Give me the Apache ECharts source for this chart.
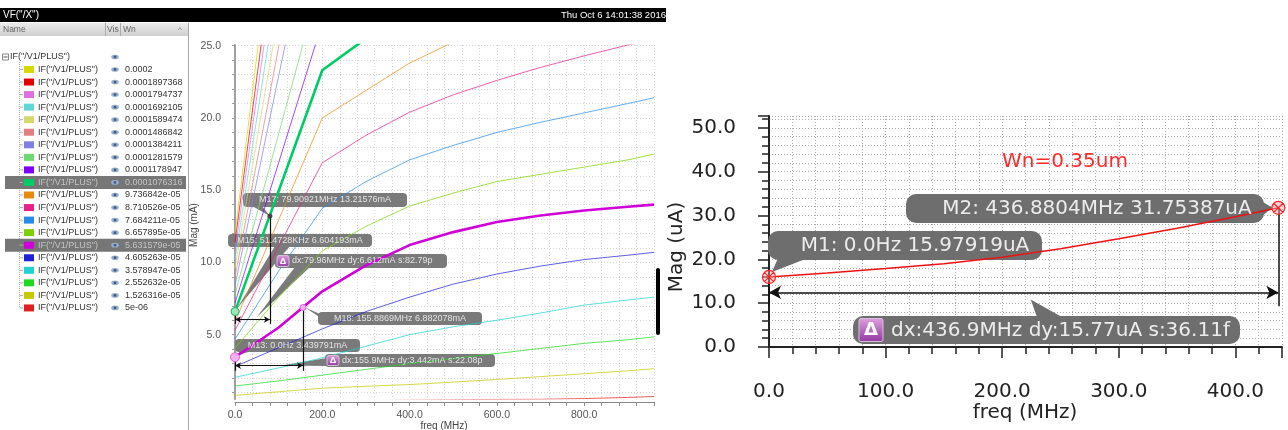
<!DOCTYPE html>
<html>
<head>
<meta charset="utf-8">
<script src="https://cdn.jsdelivr.net/npm/echarts@6/dist/echarts.min.js"></script>
<style>
html, body { margin: 0; padding: 0; background: #fff; }
#chart { width: 1288px; height: 430px; }
</style>
</head>
<body>
<div id="chart"></div>
<script>
// ---- left panel: IF("/V1/PLUS") magnitude, one trace per Wn ----
const wnLabels = ['0.0002', '0.0001897368', '0.0001794737', '0.0001692105', '0.0001589474',
    '0.0001486842', '0.0001384211', '0.0001281579', '0.0001178947', '0.0001076316',
    '9.736842e-05', '8.710526e-05', '7.684211e-05', '6.657895e-05', '5.631579e-05',
    '4.605263e-05', '3.578947e-05', '2.552632e-05', '1.526316e-05', '5e-06']
const traceColors = ['#d8d800', '#e00000', '#e070e0', '#60d8d8', '#d8d870', '#e08080', '#8080e0',
    '#70d870', '#8000ff', '#00cc66', '#e88a10', '#e8208a', '#2a8ae8', '#80d000', '#d000d8',
    '#2020d8', '#20d0d0', '#20d820', '#c8c800', '#e02020']
const highlighted = [9, 14]
const freqL = [0, 100, 200, 300, 400, 500, 600, 700, 800, 900, 960]   // MHz
const magL = [                                                        // mA
    [12.0, 36.6, 61.3, 70.5, 78.0, 84.0, 89.0, 93.0, 96.5, 99.5, 101.0],
    [11.4, 34.2, 57.0, 65.5, 72.5, 78.0, 82.5, 86.5, 89.5, 92.5, 94.0],
    [10.8, 32.2, 53.6, 61.5, 68.0, 73.0, 77.5, 81.0, 84.0, 86.5, 88.0],
    [10.2, 29.8, 49.4, 57.0, 63.0, 68.0, 72.0, 75.5, 78.5, 81.0, 82.5],
    [9.6, 27.3, 45.0, 52.5, 58.5, 63.0, 67.0, 70.0, 73.0, 75.5, 76.5],
    [9.0, 24.9, 40.7, 48.0, 53.5, 58.0, 61.5, 64.5, 67.0, 69.0, 70.5],
    [8.4, 22.9, 37.3, 44.0, 49.0, 53.0, 56.5, 59.0, 61.5, 63.5, 64.5],
    [7.8, 18.9, 30.0, 36.0, 40.5, 44.0, 47.0, 49.5, 51.5, 53.5, 54.5],
    [7.2, 16.9, 26.6, 32.0, 36.0, 39.5, 42.0, 44.5, 46.5, 48.0, 49.0],
    [6.6, 14.95, 23.3, 25.5, 27.6, 29.4, 31.0, 32.4, 33.6, 34.6, 35.2],
    [5.9, 12.95, 20.0, 21.9, 23.8, 25.25, 26.7, 27.9, 29.0, 30.0, 30.6],
    [5.3, 11.1, 16.9, 18.8, 20.4, 21.6, 22.6, 23.5, 24.3, 25.05, 25.4],
    [4.7, 9.4, 13.75, 15.6, 17.1, 18.1, 19.0, 19.7, 20.35, 21.0, 21.4],
    [4.07, 7.6, 10.8, 12.5, 13.9, 14.8, 15.6, 16.1, 16.6, 17.1, 17.5],
    [3.44, 5.5, 8.0, 9.8, 11.2, 12.1, 12.8, 13.25, 13.6, 13.85, 14.0],
    [2.8, 4.1, 5.4, 6.6, 7.6, 8.5, 9.2, 9.75, 10.2, 10.5, 10.7],
    [2.05, 2.7, 3.4, 4.2, 5.0, 5.55, 6.0, 6.5, 7.05, 7.4, 7.6],
    [1.45, 1.8, 2.2, 2.6, 3.0, 3.35, 3.7, 4.05, 4.4, 4.65, 4.85],
    [0.8, 1.05, 1.3, 1.43, 1.55, 1.72, 1.9, 2.1, 2.3, 2.5, 2.65],
    [0.3, 0.35, 0.4, 0.43, 0.47, 0.5, 0.52, 0.53, 0.58, 0.66, 0.72]
]
const yTicksL = [5, 10, 15, 20, 25]
const yMinorL = [1, 2, 3, 4, 5, 6, 7, 8, 9, 10, 11, 12, 13, 14, 15, 16, 17, 18, 19, 20, 21, 22, 23, 24, 25]
// markers on the left plot
const m13 = [0, 3.44], m18 = [155.8869, 6.882]
const m15 = [0.05, 6.604], m17 = [79.909, 13.216]

// ---- right panel: single trace Wn=0.35um ----
const freqR = [0, 50, 100, 150, 200, 250, 300, 350, 400, 436.88]      // MHz
const magR = [15.98, 16.9, 17.9, 19.0, 20.5, 22.4, 24.7, 27.1, 29.7, 31.75]  // uA
const m1 = [0, 15.979], m2 = [436.8804, 31.754]

const FL = '"Liberation Sans", Arial, sans-serif'
const FR = '"DejaVu Sans", sans-serif'
const crossMark = 'path://M0,10A10,10,0,1,1,20,10A10,10,0,1,1,0,10Z M2.93,2.93L17.07,17.07M17.07,2.93L2.93,17.07'

const chart = echarts.init(document.getElementById('chart'))

const leftSeries = magL.map((vals, i) => {
    const hi = highlighted.includes(i)
    return {
        type: 'line', xAxisIndex: 0, yAxisIndex: 0, symbol: 'none', silent: true,
        data: freqL.map((f, k) => [f, vals[k]]),
        lineStyle: { color: traceColors[i], width: hi ? 2.6 : 1, opacity: hi ? 1 : 0.72 },
        z: hi ? 3 : 2
    }
})

const arrowL = { color: '#111', width: 1.2, type: 'solid' }
// M15 / M17 on the thick green trace
leftSeries[9].markPoint = {
    silent: true, label: { show: false },
    data: [
        { coord: m15, symbol: 'circle', symbolSize: 8, itemStyle: { color: '#9de8b8', borderColor: '#20b060', borderWidth: 1 } },
        { coord: m17, symbol: 'circle', symbolSize: 5, itemStyle: { color: '#444' } }
    ]
}
leftSeries[9].markLine = {
    silent: true, label: { show: false }, lineStyle: arrowL, symbolSize: [5, 6],
    data: [
        [{ coord: [0, 6.05], symbol: 'arrow' }, { coord: [m17[0], 6.05], symbol: 'arrow' }],
        [{ coord: [0, m15[1]], symbol: 'none' }, { coord: [0, 5.75], symbol: 'none' }],
        [{ coord: m17, symbol: 'none' }, { coord: [m17[0], 5.75], symbol: 'none' }]
    ]
}
// M13 / M18 on the thick magenta trace
leftSeries[14].markPoint = {
    silent: true, label: { show: false },
    data: [
        { coord: m13, symbol: 'circle', symbolSize: 9, itemStyle: { color: '#f6b0f0', borderColor: '#e060e0', borderWidth: 1 } },
        { coord: m18, symbol: 'circle', symbolSize: 6, itemStyle: { color: '#f6b0f0', borderColor: '#e060e0', borderWidth: 1 } }
    ]
}
leftSeries[14].markLine = {
    silent: true, label: { show: false }, lineStyle: arrowL, symbolSize: [5, 6],
    data: [
        [{ coord: [0, 2.86], symbol: 'arrow' }, { coord: [m18[0], 2.86], symbol: 'arrow' }],
        [{ coord: m13, symbol: 'none' }, { coord: [0, 2.5], symbol: 'none' }],
        [{ coord: m18, symbol: 'none' }, { coord: [m18[0], 2.5], symbol: 'none' }]
    ]
}

const rightSeries = {
    type: 'line', xAxisIndex: 1, yAxisIndex: 1, symbol: 'none', silent: true,
    data: freqR.map((f, k) => [f, magR[k]]),
    lineStyle: { color: '#ee1111', width: 1.5 },
    z: 3,
    markPoint: {
        silent: true, label: { show: false }, symbol: crossMark, symbolSize: 13,
        itemStyle: { color: 'rgba(255,170,170,0.45)', borderColor: '#ff2020', borderWidth: 1.2 },
        data: [{ coord: m1 }, { coord: m2 }]
    },
    markLine: {
        silent: true, label: { show: false }, symbolSize: [10, 12],
        lineStyle: { color: '#111', width: 1.5, type: 'solid' },
        data: [
            [{ coord: [0, 12.45], symbol: 'arrow' }, { coord: [m2[0], 12.45], symbol: 'arrow' }],
            [{ coord: m1, symbol: 'none' }, { coord: [0, 9.3], symbol: 'none' }],
            [{ coord: m2, symbol: 'none' }, { coord: [m2[0], 9.3], symbol: 'none' }]
        ]
    }
}

chart.setOption({
    animation: false,
    grid: [
        { left: 235, top: 45, width: 419, height: 354 },
        { left: 769, top: 116, width: 513, height: 231 }
    ],
    xAxis: [
        {
            gridIndex: 0, type: 'value', min: 0, max: 960, interval: 40, position: 'bottom', offset: 3,
            axisLine: { lineStyle: { color: '#888', width: 1 } },
            axisTick: { length: 4, lineStyle: { color: '#888' } },
            axisLabel: { margin: 8, color: '#555', fontSize: 10.5, fontFamily: FL,
                formatter: v => v % 200 === 0 ? v.toFixed(1) : '' },
            splitLine: { show: true, lineStyle: { color: '#d4d4d4', type: [1, 2] } }
        },
        {
            gridIndex: 1, type: 'value', min: 0, max: 440, interval: 20, position: 'bottom', offset: 11,
            axisLine: { lineStyle: { color: '#222', width: 2 } },
            axisTick: { length: 7, lineStyle: { color: '#222', width: 1.5 } },
            axisLabel: { margin: 24, color: '#222', fontSize: 20, fontFamily: FR,
                formatter: v => v % 100 === 0 ? v.toFixed(1) : '' },
            splitLine: { show: true, lineStyle: { color: '#aaa', type: [1, 2] } }
        },
        {
            gridIndex: 1, type: 'value', min: 0, max: 440, interval: 100, position: 'bottom', offset: 11,
            axisLine: { show: false }, axisLabel: { show: false }, splitLine: { show: false },
            axisTick: { length: 11, lineStyle: { color: '#222', width: 1.5 } }
        }
    ],
    yAxis: [
        {
            gridIndex: 0, type: 'value', min: 0.55, max: 25.05, position: 'left', offset: 6,
            axisLine: { show: true, lineStyle: { color: '#a0a0a0', width: 2 } },
            axisTick: { show: true, length: 3, customValues: yMinorL, lineStyle: { color: '#999' } },
            axisLabel: { margin: 8, color: '#555', fontSize: 10.5, fontFamily: FL,
                customValues: yTicksL, formatter: v => v.toFixed(1) },
            splitLine: { show: true, lineStyle: { color: '#d4d4d4', type: [1, 2] } }
        },
        {
            gridIndex: 1, type: 'value', min: 0, max: 52.7, interval: 2, position: 'left', offset: 14,
            axisLine: { show: true, lineStyle: { color: '#222', width: 2 } },
            axisTick: { show: true, length: 7, lineStyle: { color: '#222', width: 1.5 } },
            axisLabel: { margin: 19, color: '#222', fontSize: 20, fontFamily: FR,
                formatter: v => v % 10 === 0 ? v.toFixed(1) : '' },
            splitLine: { show: true, lineStyle: { color: '#aaa', type: [1, 2] } }
        },
        {
            gridIndex: 1, type: 'value', min: 0, max: 52.7, interval: 10, position: 'left', offset: 14,
            axisLine: { show: false }, axisLabel: { show: false }, splitLine: { show: false },
            axisTick: { show: true, length: 11, lineStyle: { color: '#222', width: 1.5 } }
        }
    ],
    series: [...leftSeries, rightSeries]
})

// ---- overlay: window chrome, signal list, marker labels ----
const pL = v => chart.convertToPixel({ xAxisIndex: 0, yAxisIndex: 0 }, v)
const pR = v => chart.convertToPixel({ xAxisIndex: 1, yAxisIndex: 1 }, v)

function txt(x, y, s, font, fill, align, extra) {
    return Object.assign({
        type: 'text', x: x, y: y, z: 10,
        style: { text: s, font: font, fill: fill, align: align || 'left', textAlign: align || 'left',
            verticalAlign: 'middle', textVerticalAlign: 'middle' }
    }, extra || {})
}
function wedge(points, fill, z) {
    return { type: 'polygon', z: z, shape: { points: points }, style: { fill: fill } }
}
function deltaIcon(x, y, w, h, font) {
    return [
        { type: 'rect', z: 6, shape: { x: x, y: y, width: w, height: h, r: 2 },
            style: { fill: new echarts.graphic.LinearGradient(0, 0, 0, 1, [
                { offset: 0, color: '#e0a0e0' }, { offset: 1, color: '#9038a0' }]), stroke: '#d8c0d8', lineWidth: 1 } },
        txt(x + w / 2, y + h / 2 + 0.5, 'Δ', font, '#fff', 'center')
    ]
}

const G = []
// title bar
G.push({ type: 'rect', z: 5, shape: { x: 0, y: 8, width: 666, height: 14 }, style: { fill: '#000' } })
G.push(txt(3, 15, 'VF("/X")', '10px ' + FL, '#fff'))
G.push(txt(666, 15, 'Thu Oct 6 14:01:38 2016', '9.5px ' + FL, '#fff', 'right'))
// list header
G.push({ type: 'rect', z: 5, shape: { x: 0, y: 23, width: 188, height: 13 },
    style: { fill: new echarts.graphic.LinearGradient(0, 0, 0, 1, [
        { offset: 0, color: '#ececec' }, { offset: 1, color: '#cfcfcf' }]) } })
G.push(txt(3, 29.5, 'Name', '8.5px ' + FL, '#666'))
G.push(txt(107, 29.5, 'Vis', '8.5px ' + FL, '#666'))
G.push(txt(123, 29.5, 'Wn', '8.5px ' + FL, '#666'))
G.push(txt(180, 30, '^', '8px ' + FL, '#777', 'center'))
G.push({ type: 'line', z: 6, shape: { x1: 105.5, y1: 23, x2: 105.5, y2: 36 }, style: { stroke: '#aaa' } })
G.push({ type: 'line', z: 6, shape: { x1: 120.5, y1: 23, x2: 120.5, y2: 36 }, style: { stroke: '#aaa' } })
G.push({ type: 'line', z: 6, shape: { x1: 188.5, y1: 23, x2: 188.5, y2: 430 }, style: { stroke: '#a8a8a8' } })

function eye(cx, cy) {
    return [
        { type: 'circle', z: 7, x: cx, y: cy, scaleY: 0.62, shape: { cx: 0, cy: 0, r: 3.8 }, style: { fill: '#98b0d0' } },
        { type: 'circle', z: 8, x: cx, y: cy, shape: { cx: 0, cy: 0, r: 1.4 }, style: { fill: '#3c5c8c' } }
    ]
}
// root row
const rootY = 57
G.push({ type: 'rect', z: 6, shape: { x: 2.5, y: rootY - 3, width: 6, height: 6 }, style: { fill: '#fff', stroke: '#888' } })
G.push({ type: 'line', z: 7, shape: { x1: 3.5, y1: rootY, x2: 7.5, y2: rootY }, style: { stroke: '#555' } })
G.push(txt(10, rootY, 'IF("/V1/PLUS")', '9px ' + FL, '#333'))
G.push(...eye(115, rootY))
// tree guide
const rowY = i => 69.5 + 12.55 * i
G.push({ type: 'line', z: 5, shape: { x1: 19.5, y1: rootY + 5, x2: 19.5, y2: rowY(wnLabels.length - 1) },
    style: { stroke: '#b0b0b0', lineDash: [1, 1] } })
wnLabels.forEach((wn, i) => {
    const y = rowY(i)
    const hi = highlighted.includes(i)
    if (hi) G.push({ type: 'rect', z: 5, shape: { x: 5, y: y - 6.5, width: 181, height: 13 }, style: { fill: '#767676' } })
    G.push({ type: 'line', z: 6, shape: { x1: 19.5, y1: y, x2: 23, y2: y }, style: { stroke: '#b0b0b0' } })
    G.push({ type: 'rect', z: 6, shape: { x: 24, y: y - 3.5, width: 10, height: 7 }, style: { fill: traceColors[i] } })
    G.push(txt(38, y, 'IF("/V1/PLUS")', '9px ' + FL, hi ? '#c4c4c4' : '#333'))
    G.push(...eye(115, y))
    G.push(txt(125, y, wn, '9px ' + FL, hi ? '#c4c4c4' : '#333'))
})

// left plot axis names and side bar
G.push(txt(194, 225, 'Mag (mA)', '10px ' + FL, '#444', 'center', { rotation: Math.PI / 2 }))
G.push(txt(444, 426, 'freq (MHz)', '10px ' + FL, '#444', 'center'))
G.push({ type: 'rect', z: 5, shape: { x: 656, y: 268, width: 4, height: 67, r: 2 }, style: { fill: '#000' } })

// left marker labels
const boxL = '#7a7a7a', textL = '#e4e4e4', fontL = '9px ' + FL
function labelL(x, y, w, h, s, withDelta) {
    const out = [{ type: 'rect', z: 1, shape: { x: x, y: y, width: w, height: h, r: 4 }, style: { fill: boxL } }]
    if (withDelta) {
        out.push(...deltaIcon(x + 2, y + 1.5, 12, h - 3, 'bold 9px ' + FL))
        out.push(txt(x + 17, y + h / 2, s, fontL, textL))
    } else {
        out.push(txt(x + w / 2, y + h / 2, s, fontL, textL, 'center'))
    }
    return out
}
const p13 = pL(m13), p18 = pL(m18), p15 = pL(m15), p17 = pL(m17)
const pD1 = pL([m17[0] / 2, 6.05]), pD2 = pL([m18[0] / 2, 2.86])
G.push(wedge([[252, 206], [262, 206], p17], boxL, 1))
G.push(wedge([[275, 246], [290, 246], [p15[0] + 2, p15[1] - 3]], boxL, 1))
G.push(wedge([[295, 267], [310, 267], [pD1[0] + 4, pD1[1] - 2]], boxL, 1))
G.push(wedge([[320, 314], [330, 324], [p18[0] + 2, p18[1]]], boxL, 1))
G.push(wedge([[240, 351], [252, 351], [p13[0] + 2, p13[1] - 2]], boxL, 1))
G.push(wedge([[327, 358], [327, 366], [pD2[0] + 12, pD2[1]]], boxL, 1))
G.push(...labelL(243, 193, 164, 14, 'M17: 79.90921MHz 13.21576mA'))
G.push(...labelL(228, 234, 144, 13, 'M15: 51.4728KHz 6.604193mA'))
G.push(...labelL(275, 254, 172, 14, 'dx:79.96MHz dy:6.612mA s:82.79p', true))
G.push(...labelL(318, 312, 164, 13, 'M18: 155.8869MHz 6.882078mA'))
G.push(...labelL(235, 339, 125, 13, 'M13: 0.0Hz 3.439791mA'))
G.push(...labelL(325, 354, 170, 13, 'dx:155.9MHz dy:3.442mA s:22.08p', true))

// right plot: axis titles, annotation
G.push(txt(677, 247, 'Mag (uA)', '20px ' + FR, '#222', 'center', { rotation: Math.PI / 2 }))
G.push(txt(1025, 413, 'freq (MHz)', '20px ' + FR, '#222', 'center'))
G.push(txt(1002, 162, 'Wn=0.35um', '20px ' + FR, '#ff2a2a'))

const boxR = '#6e6e6e', textR = '#ececec', fontR = '20px ' + FR
const q1 = pR(m1), q2 = pR(m2), qD = pR([m2[0] / 2, 12.45])
G.push(wedge([[778, 258], [808, 258], [q1[0] + 3, q1[1] - 5]], boxR, 1))
G.push(wedge([[1258, 199], [1262, 216], [q2[0] - 6, q2[1]]], boxR, 1))
G.push(wedge([[1037, 317], [1062, 317], [qD[0] + 7, qD[1] + 7]], boxR, 1))
G.push({ type: 'rect', z: 1, shape: { x: 906, y: 194, width: 358, height: 29, r: 10 }, style: { fill: boxR } })
G.push(txt(1097, 208.5, 'M2: 436.8804MHz 31.75387uA', fontR, textR, 'center'))
G.push({ type: 'rect', z: 1, shape: { x: 768, y: 231, width: 274, height: 29, r: 10 }, style: { fill: boxR } })
G.push(txt(915, 245.5, 'M1: 0.0Hz 15.97919uA', fontR, textR, 'center'))
G.push({ type: 'rect', z: 1, shape: { x: 853, y: 316, width: 387, height: 28, r: 10 }, style: { fill: boxR } })
G.push(...deltaIcon(859, 318.5, 24, 23, 'bold 18px ' + FR))
G.push(txt(891, 330.5, 'dx:436.9MHz dy:15.77uA s:36.11f', fontR, textR))

chart.setOption({ graphic: G })
</script>
</body>
</html>
